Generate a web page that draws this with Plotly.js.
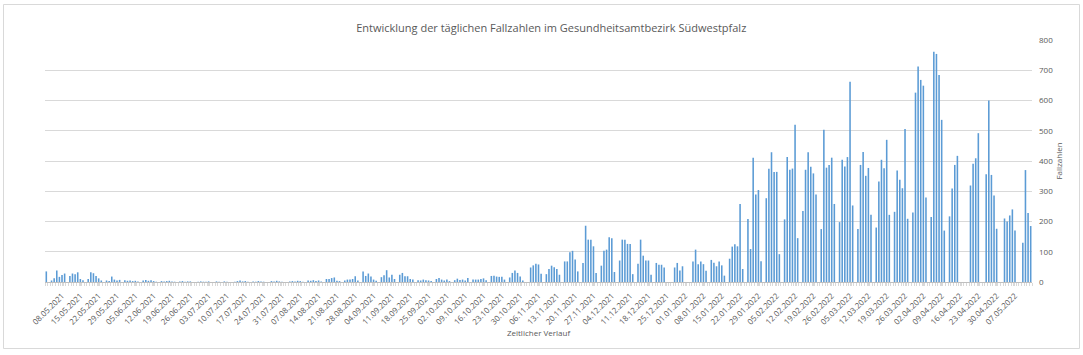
<!DOCTYPE html>
<html>
<head>
<meta charset="utf-8">
<script src="https://cdn.plot.ly/plotly-3.0.1.min.js"></script>
<style>
  html, body { margin: 0; padding: 0; background: #ffffff; }
  #chart { width: 1083px; height: 355px; }
</style>
</head>
<body>
<div id="chart"></div>
<script>
// First reporting day of the series
const startDate = '2021-05-02';

// Daily case numbers (one value per day, weeks Sun..Sat)
const dailyCases = [
  35, 0, 5, 12, 38, 17, 23,
  28, 0, 20, 28, 26, 32, 10,
  6, 0, 10, 32, 29, 20, 12,
  5, 0, 5, 3, 18, 8, 5,
  7, 0, 6, 4, 5, 3, 4,
  2, 0, 5, 7, 4, 6, 3,
  1, 0, 3, 2, 3, 4, 2,
  1, 0, 2, 3, 1, 2, 2,
  0, 0, 1, 2, 1, 1, 2,
  0, 0, 2, 1, 0, 2, 1,
  0, 0, 1, 3, 5, 2, 3,
  1, 0, 2, 1, 3, 2, 1,
  0, 0, 3, 2, 4, 2, 1,
  0, 0, 2, 3, 2, 4, 3,
  1, 0, 5, 4, 6, 3, 5,
  2, 0, 10, 10, 13, 15, 4,
  3, 0, 5, 8, 8, 10, 19,
  5, 0, 35, 20, 28, 18, 8,
  4, 0, 16, 22, 39, 15, 24,
  10, 0, 24, 30, 19, 19, 10,
  8, 0, 6, 5, 8, 6, 5,
  3, 0, 10, 13, 8, 5, 8,
  3, 0, 6, 11, 7, 8, 5,
  13, 0, 8, 8, 8, 10, 12,
  6, 0, 20, 21, 18, 17, 17,
  8, 0, 15, 30, 38, 30, 18,
  5, 0, 0, 48, 55, 60, 58,
  27, 0, 26, 43, 54, 49, 43,
  24, 0, 68, 68, 98, 103, 74,
  35, 0, 63, 186, 140, 140, 118,
  30, 0, 54, 103, 107, 148, 145,
  33, 0, 71, 140, 140, 126, 126,
  26, 0, 60, 140, 87, 71, 71,
  24, 0, 63, 57, 57, 48, 0,
  0, 0, 48, 63, 38, 52, 0,
  0, 0, 68, 107, 59, 68, 59,
  37, 0, 73, 64, 52, 68, 55,
  21, 0, 77, 117, 125, 118, 258,
  43, 0, 208, 109, 411, 289, 304,
  69, 0, 277, 374, 429, 364, 364,
  92, 0, 207, 413, 371, 375, 520,
  145, 0, 235, 371, 429, 381, 359,
  289, 0, 175, 503, 378, 387, 411,
  258, 0, 198, 404, 382, 413, 662,
  253, 0, 175, 387, 430, 351, 377,
  222, 0, 180, 332, 404, 376, 470,
  222, 0, 232, 369, 338, 310, 506,
  209, 0, 230, 626, 712, 668, 649,
  279, 0, 215, 761, 754, 684, 536,
  170, 0, 217, 309, 387, 417, 0,
  0, 0, 0, 319, 391, 409, 492,
  0, 0, 356, 600, 354, 286, 176,
  0, 0, 210, 200, 220, 240, 170,
  0, 0, 130, 370, 228, 185
];

// Axis tick labels (every 7th day)
const tickLabels = [
  '08.05.2021','15.05.2021','22.05.2021','29.05.2021','05.06.2021','12.06.2021','19.06.2021',
  '26.06.2021','03.07.2021','10.07.2021','17.07.2021','24.07.2021','31.07.2021','07.08.2021',
  '14.08.2021','21.08.2021','28.08.2021','04.09.2021','11.09.2021','18.09.2021','25.09.2021',
  '02.10.2021','09.10.2021','16.10.2021','23.10.2021','30.10.2021','06.11.2021','13.11.2021',
  '20.11.2021','27.11.2021','04.12.2021','11.12.2021','18.12.2021','25.12.2021','01.01.2022',
  '08.01.2022','15.01.2022','22.01.2022','29.01.2022','05.02.2022','12.02.2022','19.02.2022',
  '26.02.2022','05.03.2022','12.03.2022','19.03.2022','26.03.2022','02.04.2022','09.04.2022',
  '16.04.2022','23.04.2022','30.04.2022','07.05.2022'
];

const chartTitle = 'Entwicklung der täglichen Fallzahlen im Gesundheitsamtbezirk Südwestpfalz';
const xTitle = 'Zeitlicher Verlauf';
const yTitle = 'Fallzahlen';

// ---- build day positions and date labels ----
function fmt(d) {
  const dd = String(d.getUTCDate()).padStart(2, '0');
  const mm = String(d.getUTCMonth() + 1).padStart(2, '0');
  return dd + '.' + mm + '.' + d.getUTCFullYear();
}
const t0 = Date.parse(startDate + 'T00:00:00Z');
const dayIndex = dailyCases.map((_, i) => i);
const dayLabels = dayIndex.map(i => fmt(new Date(t0 + i * 86400000)));
const tickVals = tickLabels.map(lbl => dayLabels.indexOf(lbl));

const textColor = '#595959';
const gridColor = '#d9d9d9';
const font = 'Open Sans, Liberation Sans, sans-serif';

const trace = {
  type: 'bar',
  x: dayIndex,
  y: dailyCases,
  customdata: dayLabels,
  hovertemplate: '%{customdata}: %{y}<extra></extra>',
  marker: { color: '#5b9bd5', line: { width: 0 } }
};

const layout = {
  width: 1083,
  height: 355,
  margin: { l: 45, r: 51, t: 40, b: 73 },
  paper_bgcolor: '#ffffff',
  plot_bgcolor: '#ffffff',
  bargap: 0.4,
  showlegend: false,
  font: { family: font, color: textColor, size: 8 },
  title: {
    text: chartTitle,
    font: { family: font, size: 11, color: textColor },
    xref: 'container', x: 0.509, xanchor: 'center',
    yref: 'container', y: 0.921, yanchor: 'middle'
  },
  xaxis: {
    type: 'linear',
    range: [-0.5, dailyCases.length - 0.5],
    tickmode: 'array',
    tickvals: tickVals,
    ticktext: tickLabels,
    tickangle: -45,
    tickfont: { family: font, size: 8, color: textColor },
    ticks: 'outside',
    ticklen: 3,
    tickcolor: gridColor,
    minor: { tickmode: 'linear', tick0: -0.5, dtick: 1, ticks: 'outside', ticklen: 3, tickcolor: gridColor, showgrid: false },
    showline: true,
    linecolor: '#bfbfbf',
    linewidth: 1,
    showgrid: false,
    zeroline: false,
    ticklabelstandoff: 2,
    title: { text: xTitle, font: { family: font, size: 8, color: textColor }, standoff: 4 },
    automargin: false,
    fixedrange: true
  },
  yaxis: {
    side: 'right',
    range: [0, 800],
    dtick: 100,
    tickfont: { family: font, size: 8, color: textColor },
    gridcolor: gridColor,
    gridwidth: 1,
    zeroline: false,
    showline: false,
    ticks: '',
    ticklabelstandoff: 6,
    title: { text: yTitle, font: { family: font, size: 8, color: textColor }, standoff: 4 },
    automargin: false,
    fixedrange: true
  },
  shapes: [{
    type: 'rect', xref: 'paper', yref: 'paper',
    x0: (3.5 - 45) / 987, x1: (1079.5 - 45) / 987,
    y0: (282 - 348.5) / 242, y1: (282 - 4.5) / 242,
    line: { color: '#d9d9d9', width: 1 }, fillcolor: 'rgba(0,0,0,0)', layer: 'below'
  }]
};

Plotly.newPlot('chart', [trace], layout, { displayModeBar: false, staticPlot: true });
</script>
</body>
</html>
